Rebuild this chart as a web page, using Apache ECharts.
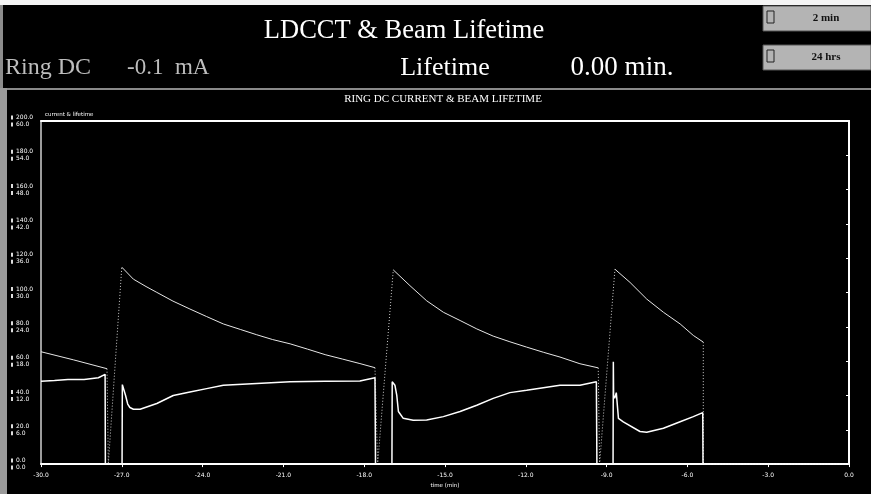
<!DOCTYPE html>
<html>
<head>
<meta charset="utf-8">
<script src="https://cdn.jsdelivr.net/npm/echarts@6/dist/echarts.min.js"></script>
<style>
  html, body { margin: 0; padding: 0; background: #000; }
  #main { width: 871px; height: 494px; }
</style>
</head>
<body>
<div id="main"></div>
<script>
// x axis ticks: minutes before now
var timeTicks = [-30, -27, -24, -21, -18, -15, -12, -9, -6, -3, 0];
// left axis ticks: ring current (mA) and lifetime (min) share one label column
var currentTicks = [0, 20, 40, 60, 80, 100, 120, 140, 160, 180, 200];
var lifetimeTicks = [0, 6, 12, 18, 24, 30, 36, 42, 48, 54, 60];

// ring DC current, decay parts (mA)
var currentDecay = [
  [-30.0, 65.5], [-28.8, 60.8], [-27.55, 55.6], [-27.55, '-'],
  [-27.0, 114.8], [-26.57, 107.8], [-26.1, 103.5], [-25.7, 100.1], [-25.1, 95.0],
  [-24.47, 90.4], [-23.85, 86.0], [-23.23, 81.7], [-22.6, 78.5], [-21.99, 75.4],
  [-21.4, 72.6], [-20.75, 70.1], [-20.1, 67.0], [-19.45, 63.8], [-18.8, 61.2],
  [-18.16, 58.6], [-17.6, 56.2], [-17.6, '-'],
  [-16.92, 113.2], [-16.3, 104.0], [-15.68, 95.2], [-15.06, 88.5], [-14.44, 83.7],
  [-13.82, 78.8], [-13.21, 74.6], [-12.59, 71.3], [-11.97, 68.2], [-11.35, 65.2],
  [-10.73, 62.4], [-9.99, 58.5], [-9.31, 56.1], [-9.31, '-'],
  [-8.69, 113.6], [-8.13, 105.9], [-7.51, 96.2], [-6.89, 88.5], [-6.27, 81.7],
  [-5.78, 75.0], [-5.41, 71.1]
];
// ring DC current, dump and refill parts (sparse samples)
var currentFill = [
  [-27.55, 55.6], [-27.5, 0], [-27.0, 114.8], [-27.0, '-'],
  [-17.6, 56.2], [-17.5, 0], [-16.92, 113.2], [-16.92, '-'],
  [-9.31, 56.1], [-9.26, 0], [-8.69, 113.6], [-8.69, '-'],
  [-5.41, 71.1], [-5.41, 0], [0, 0]
];
// beam lifetime (min)
var lifetime = [
  [-30.0, 14.5], [-29.5, 14.6], [-29.0, 14.8], [-28.4, 14.8], [-27.87, 15.1], [-27.62, 15.7],
  [-27.61, 0], [-26.99, 0], [-26.98, 13.9], [-26.94, 13.6], [-26.86, 12.0], [-26.78, 10.5],
  [-26.7, 9.9], [-26.57, 9.6], [-26.32, 9.6], [-25.7, 10.6], [-25.09, 12.0], [-24.47, 12.6],
  [-23.85, 13.2], [-23.23, 13.8], [-21.99, 14.1], [-20.75, 14.4], [-19.45, 14.5],
  [-18.16, 14.55], [-17.6, 15.1],
  [-17.58, 0], [-16.97, 0], [-16.96, 14.4], [-16.86, 13.8], [-16.79, 12.0], [-16.73, 9.2],
  [-16.55, 8.0], [-16.18, 7.65], [-15.68, 7.7], [-15.06, 8.3], [-14.44, 9.2], [-13.82, 10.3],
  [-13.21, 11.5], [-12.59, 12.5], [-11.97, 12.9], [-10.73, 13.8], [-9.99, 13.8], [-9.38, 14.4],
  [-9.36, 0], [-8.76, 0], [-8.75, 17.9], [-8.74, 12.0], [-8.7, 11.5], [-8.64, 12.5],
  [-8.56, 8.0], [-8.38, 7.4], [-7.76, 5.7], [-7.51, 5.56], [-6.89, 6.26], [-6.27, 7.4],
  [-5.78, 8.3], [-5.43, 9.0],
  [-5.42, 0], [0, 0]
];

var chart = echarts.init(document.getElementById('main'), null, { renderer: 'canvas' });
var serif = "'Liberation Serif', 'DejaVu Serif', serif";
var small = "'DejaVu Sans', sans-serif";

var option = {
  backgroundColor: '#000',
  animation: false,
  graphic: [
    // top white strip, gray left edge, header separator
    { type: 'rect', shape: { x: 0, y: 0, width: 871, height: 5 }, style: { fill: '#f4f4f4' } },
    { type: 'rect', shape: { x: 0, y: 5, width: 3, height: 84 }, style: { fill: '#8c8c8c' } },
    { type: 'rect', shape: { x: 0, y: 88, width: 871, height: 2 }, style: { fill: '#8a8a8a' } },
    { type: 'rect', shape: { x: 0, y: 88, width: 7, height: 406 }, style: { fill: '#9a9a9a' } },
    // header text
    { type: 'text', x: 404, y: 31, style: { text: 'LDCCT & Beam Lifetime', fill: '#fff', font: '26.5px ' + serif, textAlign: 'center', textVerticalAlign: 'middle' } },
    { type: 'text', x: 5, y: 68, style: { text: 'Ring DC', fill: '#bdbdbd', font: '24px ' + serif, textVerticalAlign: 'middle' } },
    { type: 'text', x: 127, y: 68, style: { text: '-0.1  mA', fill: '#bdbdbd', font: '23px ' + serif, textVerticalAlign: 'middle' } },
    { type: 'text', x: 445, y: 68, style: { text: 'Lifetime', fill: '#fff', font: '26px ' + serif, textAlign: 'center', textVerticalAlign: 'middle' } },
    { type: 'text', x: 622, y: 68, style: { text: '0.00 min.', fill: '#fff', font: '27px ' + serif, textAlign: 'center', textVerticalAlign: 'middle' } },
    // buttons
    { type: 'rect', shape: { x: 763, y: 6, width: 108, height: 25 }, style: { fill: '#b4b4b4', stroke: '#555', lineWidth: 1 } },
    { type: 'rect', shape: { x: 767, y: 11, width: 7, height: 12 }, style: { fill: 'none', stroke: '#222', lineWidth: 1 } },
    { type: 'text', x: 826, y: 18, style: { text: '2 min', fill: '#111', font: 'bold 11px ' + serif, textAlign: 'center', textVerticalAlign: 'middle' } },
    { type: 'rect', shape: { x: 763, y: 45, width: 108, height: 25 }, style: { fill: '#b4b4b4', stroke: '#555', lineWidth: 1 } },
    { type: 'rect', shape: { x: 767, y: 50, width: 7, height: 12 }, style: { fill: 'none', stroke: '#222', lineWidth: 1 } },
    { type: 'text', x: 826, y: 57, style: { text: '24 hrs', fill: '#111', font: 'bold 11px ' + serif, textAlign: 'center', textVerticalAlign: 'middle' } },
    // panel texts
    { type: 'text', x: 443, y: 99, style: { text: 'RING DC CURRENT & BEAM LIFETIME', fill: '#fff', font: '11px ' + serif, textAlign: 'center', textVerticalAlign: 'middle' } },
    { type: 'text', x: 45, y: 115, style: { text: 'current & lifetime', fill: '#fff', font: '5.5px ' + small, textVerticalAlign: 'middle' } }
  ],
  grid: { left: 41, right: 22, top: 121, bottom: 28, show: true, borderColor: '#d0d0d0', borderWidth: 1.5, backgroundColor: 'transparent' },
  xAxis: [
    {
      type: 'value', min: timeTicks[0], max: timeTicks[timeTicks.length - 1], interval: 3,
      name: 'time (min)', nameLocation: 'middle', nameGap: 16,
      nameTextStyle: { color: '#fff', fontSize: 5.5, fontFamily: 'DejaVu Sans' },
      axisLine: { lineStyle: { color: '#fff', width: 2 } },
      axisTick: { length: 3, lineStyle: { color: '#fff' } },
      axisLabel: { color: '#fff', fontSize: 6, fontFamily: 'DejaVu Sans', margin: 8,
        formatter: function (v) { return v.toFixed(1); } },
      splitLine: { show: false }
    },
    {
      type: 'value', position: 'top', min: timeTicks[0], max: timeTicks[timeTicks.length - 1],
      axisLine: { show: true, onZero: false, lineStyle: { color: '#fff', width: 2 } },
      axisTick: { show: false }, axisLabel: { show: false }, splitLine: { show: false }
    }
  ],
  yAxis: [
    {
      type: 'value', min: 0, max: 200, interval: 20,
      axisLine: { show: true, lineStyle: { color: '#fff', width: 2 } },
      axisTick: { show: true, length: 3, lineStyle: { color: '#fff' } },
      splitLine: { show: false },
      axisLabel: {
        margin: 6, align: 'left', padding: [0, 0, 0, -24],
        formatter: function (v) {
          var i = currentTicks.indexOf(v);
          return '{m|}{a|' + v.toFixed(1) + '}\n{m|}{b|' + lifetimeTicks[i].toFixed(1) + '}';
        },
        rich: {
          m: { width: 2, height: 4, backgroundColor: '#ddd' },
          a: { color: '#fff', fontSize: 6, fontFamily: 'DejaVu Sans', padding: [0, 0, 0, 3], lineHeight: 7 },
          b: { color: '#fff', fontSize: 6, fontFamily: 'DejaVu Sans', padding: [0, 0, 0, 3], lineHeight: 7 }
        }
      }
    },
    {
      type: 'value', min: 0, max: 60, position: 'right', show: false,
      axisLine: { show: false }, axisTick: { show: false }, axisLabel: { show: false }, splitLine: { show: false }
    }
  ],
  series: [
    {
      name: 'Ring DC current', type: 'line', data: currentDecay, yAxisIndex: 0,
      showSymbol: false, connectNulls: false,
      lineStyle: { color: '#e6e6e6', width: 1 }
    },
    {
      name: 'Ring DC fill', type: 'line', data: currentFill, yAxisIndex: 0,
      showSymbol: false, connectNulls: false,
      lineStyle: { color: '#cfcfcf', width: 1, type: [1, 2] }
    },
    {
      name: 'Beam lifetime', type: 'line', data: lifetime, yAxisIndex: 1,
      showSymbol: false, connectNulls: false,
      lineStyle: { color: '#fff', width: 1.5 }
    }
  ]
};
chart.setOption(option);
</script>
</body>
</html>
